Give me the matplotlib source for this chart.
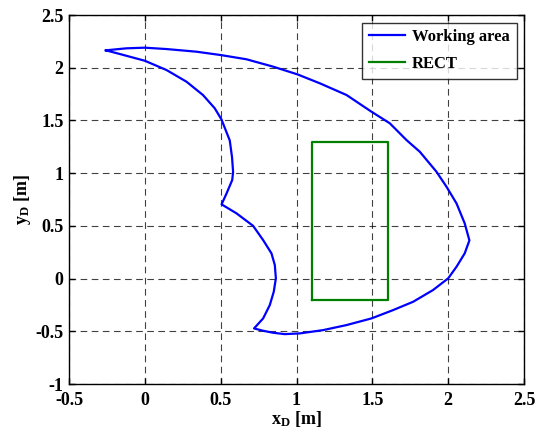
import matplotlib
matplotlib.use("Agg")
import matplotlib.pyplot as plt

# Boundary of the reachable working area (closed contour, traced clockwise from the left tip)
work_x = [-0.257, -0.121, 0.0, 0.143, 0.34, 0.501, 0.67, 0.846, 1.006, 1.154, 1.33,
          1.494, 1.615, 1.725, 1.813, 1.923, 1.989, 2.055, 2.109, 2.140,
          2.109, 2.055, 2.0, 1.90, 1.769, 1.637, 1.494, 1.33, 1.175, 1.022, 0.923,
          0.846, 0.78, 0.72,
          0.78, 0.824, 0.85, 0.864, 0.857, 0.835, 0.78, 0.714, 0.604, 0.506,
          0.539, 0.576, 0.582, 0.575, 0.56, 0.505, 0.461, 0.384, 0.275, 0.143,
          0.0, -0.165, -0.257]
work_y = [2.165, 2.184, 2.19, 2.177, 2.152, 2.12, 2.08, 2.01, 1.937, 1.852, 1.741,
          1.583, 1.473, 1.314, 1.203, 1.013, 0.871, 0.713, 0.524, 0.362,
          0.239, 0.112, 0.002, -0.109, -0.22, -0.299, -0.378, -0.441, -0.489, -0.52, -0.527,
          -0.514, -0.495, -0.473,
          -0.378, -0.251, -0.125, 0.002, 0.128, 0.239, 0.365, 0.50, 0.619, 0.704,
          0.808, 0.934, 1.01, 1.15, 1.31, 1.51, 1.615, 1.74, 1.867, 1.978,
          2.066, 2.13, 2.165]

# Rectangle corners
rect_x = [1.1, 1.6, 1.6, 1.1, 1.1]
rect_y = [-0.2, -0.2, 1.3, 1.3, -0.2]

x_ticks = [-0.5, 0, 0.5, 1, 1.5, 2, 2.5]
y_ticks = [-1, -0.5, 0, 0.5, 1, 1.5, 2, 2.5]
x_labels = ["-0.5", "0", "0.5", "1", "1.5", "2", "2.5"]
y_labels = ["-1", "-0.5", "0", "0.5", "1", "1.5", "2", "2.5"]

plt.rcParams["font.family"] = ["Liberation Serif", "DejaVu Serif"]
plt.rcParams["font.weight"] = "bold"
plt.rcParams["mathtext.fontset"] = "custom"
plt.rcParams["mathtext.rm"] = "Liberation Serif:bold"
plt.rcParams["mathtext.it"] = "Liberation Serif:bold"
plt.rcParams["mathtext.bf"] = "Liberation Serif:bold"

fig = plt.figure(figsize=(5.36, 4.36), dpi=100)
ax = fig.add_axes([69 / 536, 1 - 384 / 436, (524 - 69) / 536, (384 - 15) / 436])

ax.plot(work_x, work_y, color="#0000ff", lw=1.6, label="Working area")
ax.plot(rect_x, rect_y, color="#008000", lw=1.6, label="RECT")

ax.set_xlim(-0.5, 2.5)
ax.set_ylim(-1, 2.5)
ax.set_xticks(x_ticks)
ax.set_yticks(y_ticks)
ax.set_xticklabels(x_labels, fontsize=13, fontweight="bold")
ax.set_yticklabels(y_labels, fontsize=13, fontweight="bold")
ax.tick_params(direction="in", length=4, width=1, pad=4, top=True, right=True)
ax.tick_params(axis="x", pad=6)
ax.grid(True, color="black", linestyle=(0, (6, 4)), linewidth=0.8, alpha=0.75)
for s in ax.spines.values():
    s.set_linewidth(1.0)

ax.set_xlabel(r"x$_\mathregular{D}$ [m]", fontsize=13, fontweight="bold", labelpad=0)
ax.set_ylabel(r"y$_\mathregular{D}$ [m]", fontsize=13, fontweight="bold", labelpad=2)

leg = ax.legend(loc="upper right", fontsize=12, frameon=True, fancybox=False,
                edgecolor="black", borderaxespad=0.45, handlelength=2.2,
                borderpad=0.4, labelspacing=0.65, handletextpad=0.4)
leg.get_frame().set_linewidth(1.0)
for t in leg.get_texts():
    t.set_fontweight("bold")

fig.savefig("out.png", dpi=100)
